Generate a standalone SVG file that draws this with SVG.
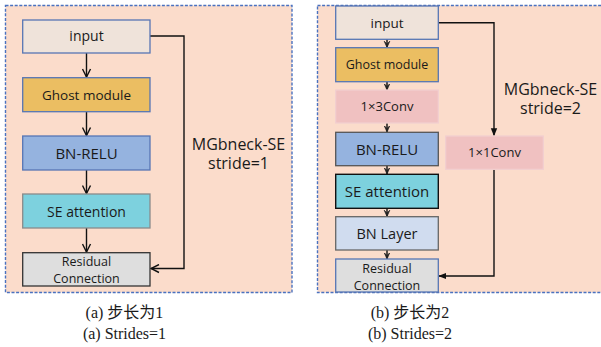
<svg xmlns="http://www.w3.org/2000/svg" width="601" height="347" viewBox="0 0 601 347">
<defs>
<style>
.panel{fill:#fbdccb;stroke:#4a72c0;stroke-width:1.4;stroke-dasharray:3 1.6}
.t{font-family:"Open Sans","Noto Sans","DejaVu Sans",sans-serif;fill:#1a1a1a;text-anchor:middle}
.cap{font-family:"Liberation Serif","Noto Sans CJK SC",serif;font-size:16px;fill:#1a1a1a;text-anchor:middle}
.ln{fill:none;stroke:#111;stroke-width:1.4}
</style>
<marker id="open" viewBox="0 0 10 10" refX="9" refY="5" markerWidth="10" markerHeight="10" markerUnits="userSpaceOnUse" orient="auto">
<path d="M1,1 L9,5 L1,9" fill="none" stroke="#111" stroke-width="1.4"/>
</marker>
<marker id="fill" viewBox="0 0 10 10" refX="9" refY="5" markerWidth="8" markerHeight="8" markerUnits="userSpaceOnUse" orient="auto">
<path d="M0,1 L10,5 L0,9 Z" fill="#111"/>
</marker>
<marker id="small" viewBox="0 0 10 10" refX="9" refY="5" markerWidth="7" markerHeight="8" markerUnits="userSpaceOnUse" orient="auto">
<path d="M0,1 L9,5 L0,9 L4,5 Z" fill="#222" stroke="#222" stroke-width="1"/>
</marker>
</defs>

<rect class="panel" x="5.5" y="5.5" width="286.5" height="287"/>
<rect class="panel" x="317.5" y="5.5" width="290" height="287"/>

<g id="connectors">
<line class="ln" x1="86.5" y1="53" x2="86.5" y2="77" marker-end="url(#open)"/>
<line class="ln" x1="86.5" y1="112" x2="86.5" y2="135.5" marker-end="url(#open)"/>
<line class="ln" x1="86.5" y1="170" x2="86.5" y2="193.5" marker-end="url(#open)"/>
<line class="ln" x1="86.5" y1="228" x2="86.5" y2="252" marker-end="url(#open)"/>
<polyline class="ln" points="150,36 184,36 184,268.5 151,268.5" marker-end="url(#open)"/>

<line class="ln" x1="387" y1="39" x2="387" y2="47.5" marker-end="url(#small)"/>
<line class="ln" x1="387" y1="81.5" x2="387" y2="90" marker-end="url(#small)"/>
<line class="ln" x1="387" y1="123" x2="387" y2="132" marker-end="url(#small)"/>
<line class="ln" x1="387" y1="165.5" x2="387" y2="174" marker-end="url(#small)"/>
<line class="ln" x1="387" y1="208" x2="387" y2="216.5" marker-end="url(#small)"/>
<line class="ln" x1="387" y1="250" x2="387" y2="259" marker-end="url(#small)"/>
<polyline class="ln" points="438.5,22.7 494,22.7 494,135.5" marker-end="url(#fill)"/>
<polyline class="ln" points="494,169.5 494,276 439,276" marker-end="url(#fill)"/>
</g>

<g id="a-input"><rect x="22.7" y="20" width="127.3" height="33" fill="#efe3da" stroke="#5676b4" stroke-width="1.3"/><text class="t" x="86.5" y="41" font-size="14">input</text></g>
<g id="a-ghost"><rect x="22.7" y="77.7" width="127.3" height="34" fill="#ebbe62" stroke="#5676b4" stroke-width="1.3"/><text class="t" x="86.5" y="99.5" font-size="13.5">Ghost module</text></g>
<g id="a-bnrelu"><rect x="22.7" y="136" width="127.3" height="34" fill="#95b3df" stroke="#5676b4" stroke-width="1.3"/><text class="t" x="86.5" y="158.5" font-size="15">BN-RELU</text></g>
<g id="a-se"><rect x="22.7" y="194" width="127.3" height="34" fill="#7dd1de" stroke="#8a8a8a" stroke-width="1.3"/><text class="t" x="86.5" y="216.5" font-size="14">SE attention</text></g>
<g id="a-res"><rect x="22.7" y="252.7" width="127.3" height="33.3" fill="#dedede" stroke="#333" stroke-width="1.3"/><text class="t" x="86.5" y="266" font-size="12.5">Residual</text><text class="t" x="86.5" y="283" font-size="12.5">Connection</text></g>
<g id="a-label"><text class="t" x="238.5" y="150" font-size="16">MGbneck-SE</text><text class="t" x="238.5" y="169" font-size="16">stride=1</text></g>

<g id="b-input"><rect x="335.7" y="6" width="102.6" height="33.3" fill="#efe3da" stroke="#5676b4" stroke-width="1.3"/><text class="t" x="387" y="27.5" font-size="13.5">input</text></g>
<g id="b-ghost"><rect x="335.7" y="47.7" width="102.6" height="34" fill="#ebbe62" stroke="#5676b4" stroke-width="1.3"/><text class="t" x="387" y="69" font-size="12.5">Ghost module</text></g>
<g id="b-conv13"><rect x="335.7" y="90" width="102.6" height="33" fill="#f0c1c1" stroke="#f2cfcf" stroke-width="1.3"/><text class="t" x="387" y="111" font-size="13">1×3Conv</text></g>
<g id="b-bnrelu"><rect x="335.7" y="132.3" width="102.6" height="33.4" fill="#95b3df" stroke="#555" stroke-width="1.3"/><text class="t" x="387" y="154.5" font-size="15">BN-RELU</text></g>
<g id="b-se"><rect x="335.7" y="174.3" width="102.6" height="34" fill="#7dd1de" stroke="#111" stroke-width="1.4"/><text class="t" x="387" y="196.5" font-size="15">SE attention</text></g>
<g id="b-bnlayer"><rect x="335.7" y="216.7" width="102.6" height="33.3" fill="#d0dcef" stroke="#666" stroke-width="1.3"/><text class="t" x="387" y="238.5" font-size="14.5">BN Layer</text></g>
<g id="b-res"><rect x="335.7" y="259" width="102.6" height="33" fill="#dedede" stroke="#5676b4" stroke-width="1.3"/><text class="t" x="387" y="272.5" font-size="12.5">Residual</text><text class="t" x="387" y="289.5" font-size="12.5">Connection</text></g>
<g id="b-conv11"><rect x="445.7" y="136" width="97.6" height="33.3" fill="#f0c1c1" stroke="#f2cfcf" stroke-width="1.3"/><text class="t" x="494.5" y="157" font-size="13">1×1Conv</text></g>
<g id="b-label"><text class="t" x="550.5" y="95" font-size="16">MGbneck-SE</text><text class="t" x="550.5" y="114" font-size="16">stride=2</text></g>

<g id="captions">
<text class="cap" x="124.5" y="318">(a) 步长为1</text>
<text class="cap" x="124.5" y="339">(a) Strides=1</text>
<text class="cap" x="410" y="318">(b) 步长为2</text>
<text class="cap" x="410" y="339">(b) Strides=2</text>
</g>
</svg>
